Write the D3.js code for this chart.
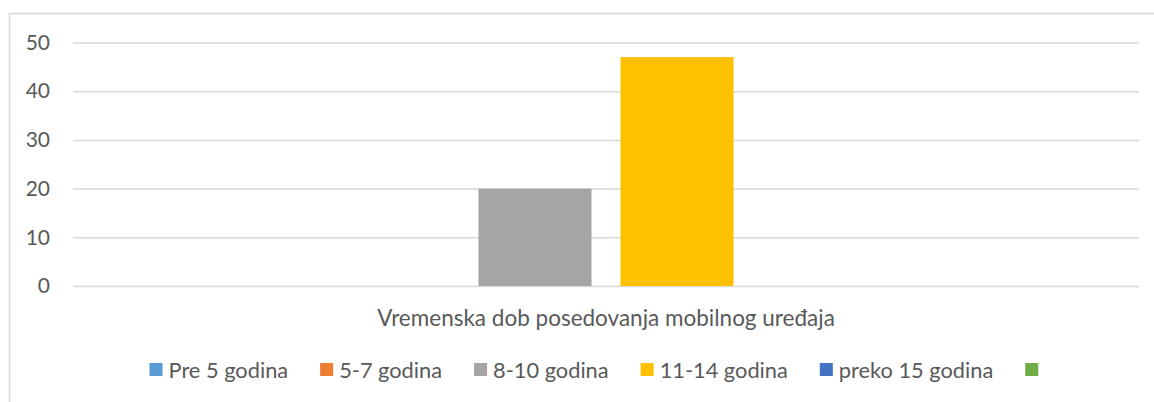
<!DOCTYPE html>
<html><head><meta charset="utf-8">
<script src="https://cdn.jsdelivr.net/npm/d3@7"></script>
<style>
html,body{margin:0;padding:0;background:#fff;}
svg{display:block;}
text{font-family:Lato,"Open Sans",sans-serif;fill:#595959;}
</style></head>
<body>
<svg id="c" width="1154" height="402"></svg>
<script>
const categories = ["Vremenska dob posedovanja mobilnog uređaja"];
const seriesNames = ["Pre 5 godina", "5-7 godina", "8-10 godina", "11-14 godina", "preko 15 godina", ""];
const seriesValues = [0, 0, 20, 47, 0, 0];
const seriesColors = ["#5B9BD5", "#ED7D31", "#A5A5A5", "#FFC000", "#4472C4", "#70AD47"];
const yTicks = [0, 10, 20, 30, 40, 50];

const svg = d3.select("#c");
const FS = 22.5, LFS = 21.8;

// chart border
svg.append("rect").attr("x", 9.5).attr("y", 13.5).attr("width", 1170).attr("height", 420)
  .attr("fill", "none").attr("stroke", "#D9D9D9").attr("stroke-width", 1.5);

const y = d3.scaleLinear().domain([0, 50]).range([286, 42.5]);
const x0 = d3.scaleBand().domain(categories).range([73, 1139]).paddingInner(0).paddingOuter(0.1476);
const x1 = d3.scaleBand().domain(d3.range(seriesNames.length)).range([0, x0.bandwidth()]).paddingInner(0.204).paddingOuter(0);

// gridlines
const yAxis = d3.axisLeft(y).tickValues(yTicks).tickSize(-(1139 - 73)).tickPadding(23);
const gy = svg.append("g").attr("transform", "translate(73,0)").call(yAxis);
gy.select(".domain").remove();
gy.selectAll(".tick line").attr("stroke", "#D9D9D9").attr("stroke-width", 1.5);
gy.selectAll(".tick text").attr("font-size", 21).style("font-family", "Lato, 'Open Sans', sans-serif").attr("fill", "#595959");

// bars
const g = svg.append("g");
categories.forEach(cat => {
  g.selectAll("rect.bar").data(seriesValues).enter().append("rect")
    .attr("class", "bar")
    .attr("x", (d, i) => x0(cat) + x1(i))
    .attr("width", x1.bandwidth())
    .attr("y", d => y(d))
    .attr("height", d => y(0) - y(d))
    .attr("fill", (d, i) => seriesColors[i]);
});

// category label
svg.append("text").attr("x", x0(categories[0]) + x0.bandwidth() / 2).attr("y", 326)
  .attr("text-anchor", "middle").attr("font-size", FS).text(categories[0]);

// legend
const lg = svg.append("g");
let cx = 149.5;
seriesNames.forEach((name, i) => {
  lg.append("rect").attr("x", cx).attr("y", 363).attr("width", 13).attr("height", 13).attr("fill", seriesColors[i]);
  cx += 13;
  if (name) {
    const t = lg.append("text").attr("x", cx + 6).attr("y", 378).attr("font-size", LFS).text(name);
    cx += 6 + t.node().getComputedTextLength() + 32;
  } else {
    cx += 32;
  }
});
</script>
</body></html>
